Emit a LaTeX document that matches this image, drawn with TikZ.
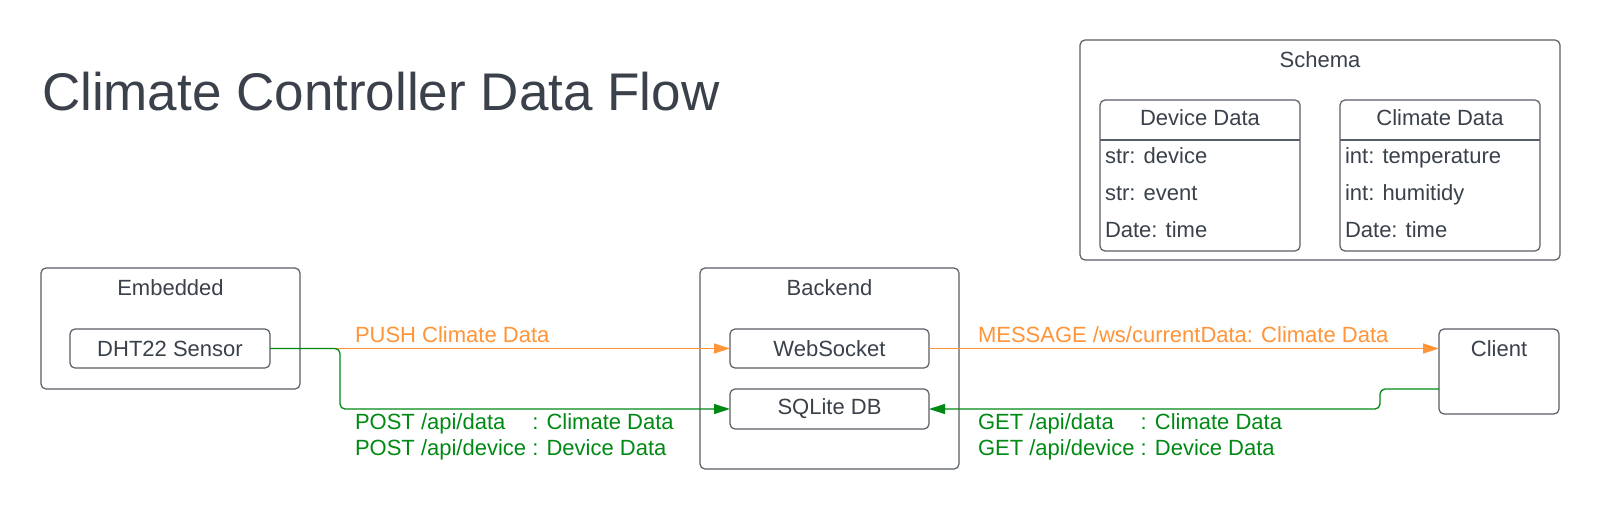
\documentclass[tikz,border=0pt]{standalone}
\usepackage{fontspec}
\setmainfont{Liberation Sans}
\usetikzlibrary{arrows.meta,calc}
\definecolor{ink}{RGB}{58,65,74}
\definecolor{edgegray}{RGB}{88,94,102}
\definecolor{flowor}{RGB}{255,148,56}
\definecolor{flowgr}{RGB}{0,138,20}
\begin{document}
\begin{tikzpicture}[x=1pt,y=-1pt,
  every node/.style={inner sep=0pt, outer sep=0pt, text=ink},
  box/.style={draw=edgegray, line width=1.2pt, rounded corners=5pt},
  txt/.style={font=\fontsize{22}{26.5}\selectfont},
  orflow/.style={draw=flowor, line width=1.3pt, -{Triangle[length=16pt,width=10pt]}},
  grflow/.style={draw=flowgr, line width=1.3pt, rounded corners=5pt, -{Triangle[length=16pt,width=10pt]}},
  rowtxt/.style={txt, anchor=base west}]
\useasboundingbox (0,0) rectangle (1600,509);
\fill[white] (0,0) rectangle (1600,509);

% title
\node[anchor=base west, font=\fontsize{53}{60}\selectfont] (title) at (42,110) {Climate Controller Data Flow};

% Embedded
\node[box, minimum width=259pt, minimum height=121pt] (emb) at (170.5,328.5) {};
\node[txt, anchor=base] (embt) at (170.5,295) {Embedded};
\node[box, txt, minimum width=200pt, minimum height=39pt] (sensor) at (170,348.5) {DHT22 Sensor};

% Backend
\node[box, minimum width=259pt, minimum height=201pt] (back) at (829.5,368.5) {};
\node[txt, anchor=base] (backt) at (829.5,295) {Backend};
\node[box, txt, minimum width=199pt, minimum height=39pt] (ws) at (829.5,348.5) {WebSocket};
\node[box, txt, minimum width=199pt, minimum height=40pt] (db) at (829.5,409) {SQLite DB};

% Client
\node[box, minimum width=120pt, minimum height=85pt] (client) at (1499,371.5) {};
\node[txt, anchor=base] (clientt) at (1499,356) {Client};

% Schema
\node[box, minimum width=480pt, minimum height=220pt] (schema) at (1320,150) {};
\node[txt, anchor=base] (schemat) at (1320,67) {Schema};

\node[box, minimum width=200pt, minimum height=151pt] (dev) at (1200,175.5) {};
\draw[edgegray, line width=1.2pt] ([yshift=-40pt]dev.north west) -- ([yshift=-40pt]dev.north east);
\node[txt, anchor=base] (devt) at (1200,125) {Device Data};
\node[rowtxt] (dev1) at (1105,163) {str: device};
\node[rowtxt] (dev2) at (1105,200) {str: event};
\node[rowtxt] (dev3) at (1105,237) {Date: time};

\node[box, minimum width=200pt, minimum height=151pt] (clim) at (1440,175.5) {};
\draw[edgegray, line width=1.2pt] ([yshift=-40pt]clim.north west) -- ([yshift=-40pt]clim.north east);
\node[txt, anchor=base] (climt) at (1440,125) {Climate Data};
\node[rowtxt] (clim1) at (1345,163) {int: temperature};
\node[rowtxt] (clim2) at (1345,200) {int: humitidy};
\node[rowtxt] (clim3) at (1345,237) {Date: time};

% connectors
\coordinate (gA) at (340,348.5);
\coordinate (cOut) at ([yshift=-17.5pt]client.west);
\coordinate (gB) at (1380,389);
\draw[orflow] (sensor.east) -- (ws.west);
\draw[grflow] (sensor.east) -- (gA) |- (db.west);
\draw[orflow] (ws.east) -- (ws.east -| client.west);
\draw[grflow] (cOut) -- (gB) |- (db.east);

% labels
\node[rowtxt, text=flowor] (lpush) at (355,342) {PUSH Climate Data};
\node[rowtxt, text=flowor] (lmsg) at (978,342) {MESSAGE /ws/currentData: Climate Data};
\node[rowtxt, text=flowgr] (lpost) at (355,429) {\begin{tabular}[t]{@{}l@{\ }l@{}}POST /api/data & : Climate Data\\ POST /api/device & : Device Data\end{tabular}};
\node[rowtxt, text=flowgr] (lget) at (978,429) {\begin{tabular}[t]{@{}l@{\ }l@{}}GET /api/data & : Climate Data\\ GET /api/device & : Device Data\end{tabular}};
\end{tikzpicture}
\end{document}
